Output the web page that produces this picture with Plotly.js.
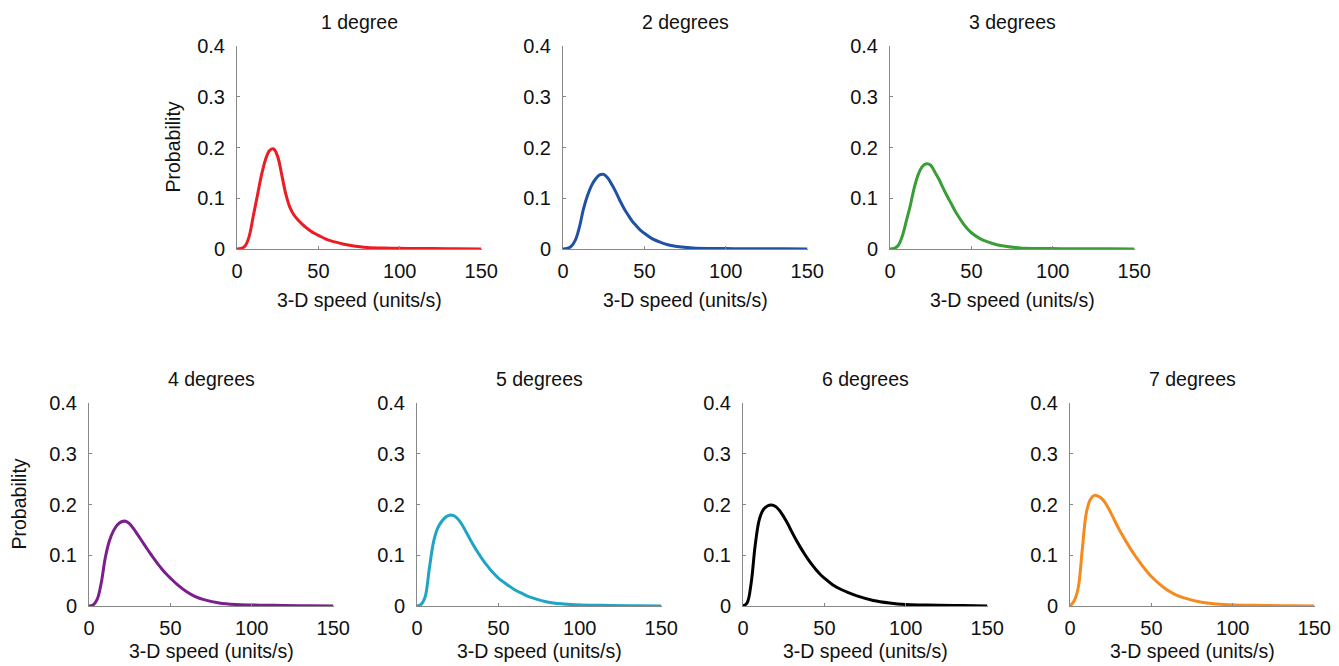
<!DOCTYPE html>
<html>
<head>
<meta charset="utf-8">
<script src="https://cdn.plot.ly/plotly-3.0.1.min.js"></script>
<style>html,body{margin:0;padding:0;background:#fff;}#chart{width:1339px;height:666px;}</style>
</head>
<body>
<div id="chart"></div>
<script>
// ---- data ----
var speed = [0,2.5,5,7.5,10,12.5,15,17.5,20,22.5,25,27.5,30,32.5,35,37.5,40,42.5,45,47.5,50,55,60,65,70,80,90,100,110,120,135,150];
var panelTitles = ["1 degree","2 degrees","3 degrees","4 degrees","5 degrees","6 degrees","7 degrees"];
var prob1 = [0,0.001,0.006,0.025,0.065,0.105,0.145,0.176,0.194,0.197,0.182,0.146,0.108,0.082,0.067,0.057,0.049,0.042,0.036,0.031,0.027,0.019,0.014,0.01,0.007,0.003,0.002,0.0015,0.001,0.001,0.0005,0];
var prob2 = [0,0.001,0.005,0.017,0.042,0.078,0.105,0.125,0.138,0.146,0.147,0.14,0.127,0.112,0.095,0.08,0.067,0.055,0.046,0.037,0.031,0.02,0.013,0.008,0.005,0.002,0.001,0.0008,0.0006,0.0005,0.0003,0];
var prob3 = [0,0.001,0.007,0.025,0.055,0.086,0.122,0.148,0.163,0.168,0.165,0.152,0.138,0.121,0.105,0.09,0.075,0.062,0.05,0.04,0.032,0.021,0.014,0.009,0.006,0.002,0.001,0.0008,0.0006,0.0005,0.0003,0];
var prob4 = [0,0.002,0.013,0.045,0.095,0.128,0.148,0.16,0.166,0.167,0.162,0.152,0.14,0.128,0.116,0.104,0.093,0.082,0.072,0.063,0.055,0.04,0.028,0.019,0.013,0.006,0.003,0.002,0.0015,0.001,0.0005,0];
var prob5 = [0,0.003,0.018,0.072,0.124,0.152,0.166,0.175,0.179,0.178,0.172,0.161,0.147,0.132,0.118,0.105,0.093,0.082,0.072,0.063,0.055,0.043,0.032,0.024,0.017,0.008,0.004,0.002,0.0015,0.001,0.0005,0];
var prob6 = [0,0.006,0.045,0.12,0.17,0.19,0.197,0.199,0.196,0.188,0.176,0.162,0.146,0.131,0.117,0.104,0.092,0.081,0.071,0.062,0.055,0.042,0.033,0.026,0.02,0.011,0.006,0.003,0.002,0.0015,0.001,0];
var prob7 = [0,0.01,0.035,0.11,0.183,0.21,0.218,0.216,0.21,0.199,0.184,0.168,0.152,0.138,0.124,0.111,0.099,0.088,0.077,0.067,0.058,0.043,0.031,0.022,0.016,0.008,0.004,0.002,0.0015,0.001,0.0005,0];
var xTickVals = [0,50,100,150];
var xTickText = ["0","50","100","150"];
var yTickVals = [0,0.1,0.2,0.3,0.4];
var yTickText = ["0","0.1","0.2","0.3","0.4"];
var xTitle = "3-D speed (units/s)";
var yTitle = "Probability";

// ---- style / layout ----
var series = [prob1,prob2,prob3,prob4,prob5,prob6,prob7];
var colors = ["#ec1c24","#1f52a2","#3a9e37","#7a1f8c","#1ea5c6","#000000","#f58a1f"];
var W = 1339, H = 666;
var left = [237,563,890,89,417,743,1070];
var plotW = 245;
var topPx = [46,46,46,403,403,403,403];
var botPx = [249,249,249,606,606,606,606];
var font = "Arial, 'Liberation Sans', sans-serif";
var tickSize = 20, textSize = 19.5;

var traces = [], annotations = [];
var layout = {
  width: W, height: H, margin: {l:0,r:0,t:0,b:0},
  paper_bgcolor: "#fff", plot_bgcolor: "#fff",
  showlegend: false, font: {family: font, color: "#111", size: tickSize}
};
for (var i = 0; i < 7; i++) {
  var n = i === 0 ? "" : String(i+1);
  traces.push({
    x: speed, y: series[i], type: "scatter", mode: "lines",
    line: {color: colors[i], width: 3, shape: "spline", smoothing: 1},
    xaxis: "x"+n, yaxis: "y"+n, hoverinfo: "x+y"
  });
  var d0 = left[i]/W, d1 = (left[i]+plotW)/W;
  var e0 = (H-botPx[i])/H, e1 = (H-topPx[i])/H;
  layout["xaxis"+n] = {
    domain: [d0,d1], range: [0,150.5], anchor: "y"+n,
    tickvals: xTickVals, ticktext: xTickText, ticks: "inside", ticklen: 3,
    tickcolor: "#888", showline: true, linecolor: "#888", linewidth: 1,
    showgrid: false, zeroline: false, tickfont: {size: tickSize, color: "#111"},
    ticklabelstandoff: 4, fixedrange: true
  };
  layout["yaxis"+n] = {
    domain: [e0,e1], range: [0,0.4], anchor: "x"+n,
    tickvals: yTickVals, ticktext: yTickText, ticks: "inside", ticklen: 3,
    tickcolor: "#888", showline: true, linecolor: "#888", linewidth: 1,
    showgrid: false, zeroline: false, tickfont: {size: tickSize, color: "#111"},
    ticklabelstandoff: 7, fixedrange: true
  };
  var cx = (left[i]+plotW/2)/W;
  var titleOff = i < 3 ? 51 : 45;
  annotations.push({text: panelTitles[i], xref:"paper", yref:"paper", x: cx, y: (H-topPx[i]+24)/H,
    xanchor:"center", yanchor:"middle", showarrow:false, font:{size:textSize, color:"#111"}});
  annotations.push({text: xTitle, xref:"paper", yref:"paper", x: cx, y: (H-botPx[i]-titleOff)/H,
    xanchor:"center", yanchor:"middle", showarrow:false, font:{size:textSize, color:"#111"}});
}
annotations.push({text: yTitle, xref:"paper", yref:"paper", x: 172/W, y: (H-147.5)/H, textangle:-90,
  xanchor:"center", yanchor:"middle", showarrow:false, font:{size:textSize, color:"#111"}});
annotations.push({text: yTitle, xref:"paper", yref:"paper", x: 18/W, y: (H-504.5)/H, textangle:-90,
  xanchor:"center", yanchor:"middle", showarrow:false, font:{size:textSize, color:"#111"}});
layout.annotations = annotations;

Plotly.newPlot("chart", traces, layout, {displayModeBar: false});
</script>
</body>
</html>
